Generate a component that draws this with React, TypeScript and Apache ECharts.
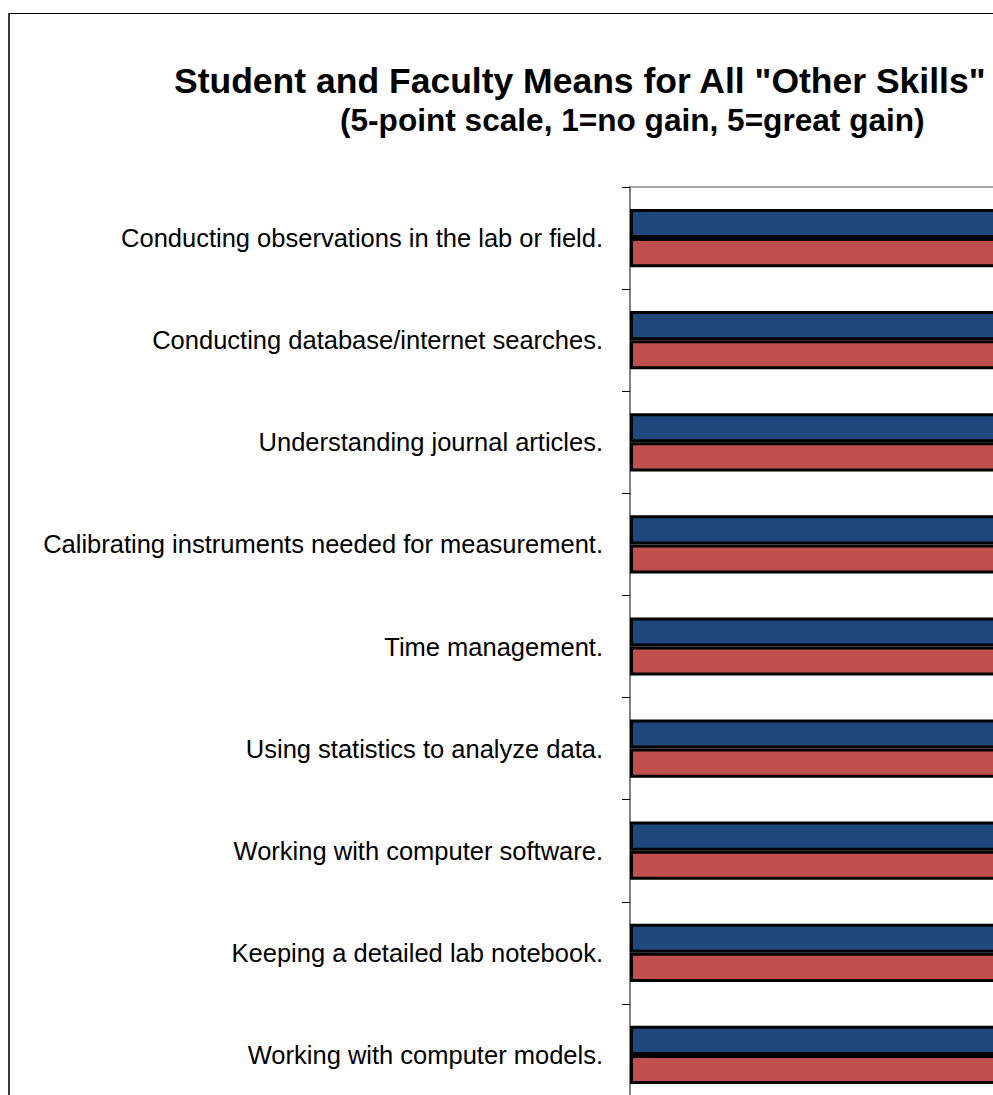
import React, { useEffect, useRef } from "react";
import * as echarts from "echarts";

const categories = [
  "Conducting observations in the lab or field.",
  "Conducting database/internet searches.",
  "Understanding journal articles.",
  "Calibrating instruments needed for measurement.",
  "Time management.",
  "Using statistics to analyze data.",
  "Working with computer software.",
  "Keeping a detailed lab notebook.",
  "Working with computer models.",
];
const studentMeans = [3.9, 3.6, 3.7, 3.3, 3.5, 3.2, 3.4, 3.4, 3.0];
const facultyMeans = [4.1, 3.5, 3.8, 3.6, 3.4, 3.3, 3.3, 3.9, 3.1];
const titleText = 'Student and Faculty Means for All "Other Skills"';
const subtitleText = "(5-point scale, 1=no gain, 5=great gain)";

const FONT = "'Liberation Sans', Arial, Helvetica, sans-serif";
const CHART_W = 1700;
const CHART_H = 1095;

export default function App() {
  const ref = useRef<HTMLDivElement>(null);
  useEffect(() => {
    if (!ref.current) return;
    const chart = echarts.init(ref.current, undefined, { renderer: "svg" });
    chart.setOption({
      animation: false,
      backgroundColor: "#ffffff",
      graphic: [
        {
          type: "line",
          shape: { x1: 8, y1: 13.5, x2: CHART_W, y2: 13.5 },
          style: { stroke: "#000000", lineWidth: 1.2 },
          z: 10,
        },
        {
          type: "line",
          shape: { x1: 9, y1: 13, x2: 9, y2: CHART_H + 10 },
          style: { stroke: "#3a3a3a", lineWidth: 2 },
          z: 10,
        },
        {
          type: "text",
          x: 174,
          y: 81,
          style: {
            text: titleText,
            font: `bold 35.5px ${FONT}`,
            fill: "#000000",
            align: "left",
            verticalAlign: "middle",
          },
        },
        {
          type: "text",
          x: 340,
          y: 120,
          style: {
            text: subtitleText,
            font: `bold 31.6px ${FONT}`,
            fill: "#000000",
            align: "left",
            verticalAlign: "middle",
          },
        },
      ],
      grid: {
        left: 630,
        top: 187,
        width: 900,
        bottom: -11,
        show: true,
        borderColor: "#a6a6a6",
        borderWidth: 2,
        backgroundColor: "#ffffff",
        outerBoundsMode: "none",
      },
      xAxis: {
        type: "value",
        min: 0,
        max: 5,
        interval: 1,
        axisLabel: { show: false },
        splitLine: { show: false },
        axisLine: { show: false },
        axisTick: { show: false },
      },
      yAxis: {
        type: "category",
        data: categories,
        inverse: true,
        axisLine: { show: true, lineStyle: { color: "#808080", width: 2 } },
        axisTick: { show: true, length: 8, lineStyle: { color: "#000000", width: 1 } },
        axisLabel: {
          margin: 27,
          fontFamily: FONT,
          fontSize: 25.5,
          color: "#000000",
        },
      },
      series: [
        {
          name: "Student",
          type: "bar",
          data: studentMeans,
          barGap: "0%",
          barCategoryGap: "43%",
          itemStyle: { color: "#1F497D", borderColor: "#000000", borderWidth: 3 },
        },
        {
          name: "Faculty",
          type: "bar",
          data: facultyMeans,
          barGap: "0%",
          barCategoryGap: "43%",
          itemStyle: { color: "#C0504D", borderColor: "#000000", borderWidth: 3 },
        },
      ],
    });
    return () => chart.dispose();
  }, []);
  return (
    <div
      style={{
        position: "fixed",
        left: 0,
        top: 0,
        width: 993,
        height: 1095,
        overflow: "hidden",
        background: "#fff",
      }}
    >
      <div ref={ref} style={{ width: CHART_W, height: CHART_H }} />
    </div>
  );
}
